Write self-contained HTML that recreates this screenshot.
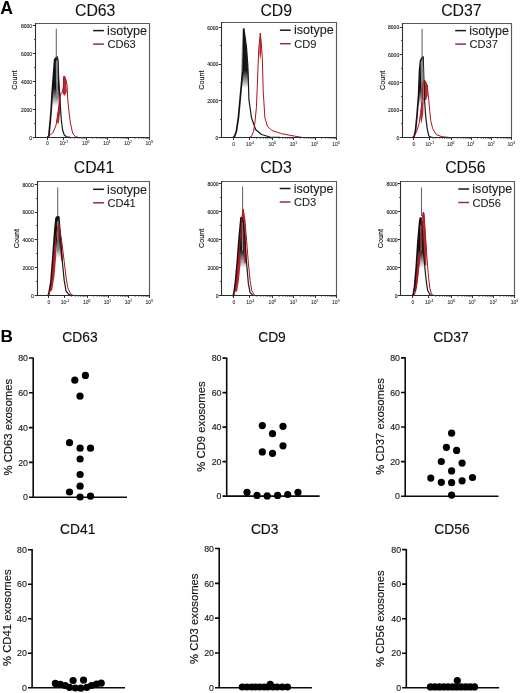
<!DOCTYPE html>
<html><head><meta charset="utf-8"><title>Figure</title>
<style>
html,body{margin:0;padding:0;background:#fff;width:520px;height:693px;overflow:hidden;}
svg{display:block;font-family:"Liberation Sans", sans-serif;will-change:transform;}
</style></head><body>
<svg width="520" height="693" viewBox="0 0 520 693" font-family='"Liberation Sans", sans-serif'>
<rect width="520" height="693" fill="#fff"/>
<text x="0.3" y="13.8" font-size="17.6" font-weight="bold" fill="#000">A</text>
<text x="0.4" y="341.9" font-size="17.2" font-weight="bold" fill="#000">B</text>
<text x="95.2" y="15.6" font-size="15.8" text-anchor="middle" fill="#111" stroke="#111" stroke-width="0.1">CD63</text>
<text x="32" y="139.5" font-size="5" text-anchor="end" fill="#1a1a1a" stroke="#1a1a1a" stroke-width="0.12">0</text>
<text x="32" y="111.55" font-size="5" text-anchor="end" fill="#1a1a1a" stroke="#1a1a1a" stroke-width="0.12">2000</text>
<text x="32" y="83.6" font-size="5" text-anchor="end" fill="#1a1a1a" stroke="#1a1a1a" stroke-width="0.12">4000</text>
<text x="32" y="55.65" font-size="5" text-anchor="end" fill="#1a1a1a" stroke="#1a1a1a" stroke-width="0.12">6000</text>
<text x="32" y="27.71" font-size="5" text-anchor="end" fill="#1a1a1a" stroke="#1a1a1a" stroke-width="0.12">8000</text>
<path d="M32.7 137.5H35.5M34.2 123.5H35.5M32.7 109.5H35.5M34.2 95.5H35.5M32.7 81.5H35.5M34.2 67.5H35.5M32.7 53.5H35.5M34.2 39.5H35.5M32.7 25.5H35.5M47.5 137.5V140M63.5 137.5V140M86.5 137.5V140M107.5 137.5V140M128.5 137.5V140M149.5 137.5V140" stroke="#333" stroke-width="1" fill="none"/>
<path d="M70.22 137.5V138.9M74.24 137.5V138.9M77.1 137.5V138.9M79.32 137.5V138.9M81.13 137.5V138.9M82.66 137.5V138.9M83.99 137.5V138.9M85.16 137.5V138.9M92.58 137.5V138.9M96.31 137.5V138.9M98.95 137.5V138.9M101 137.5V138.9M102.68 137.5V138.9M104.09 137.5V138.9M105.32 137.5V138.9M106.4 137.5V138.9M113.74 137.5V138.9M117.47 137.5V138.9M120.11 137.5V138.9M122.17 137.5V138.9M123.84 137.5V138.9M125.26 137.5V138.9M126.48 137.5V138.9M127.57 137.5V138.9M134.91 137.5V138.9M138.63 137.5V138.9M141.28 137.5V138.9M143.33 137.5V138.9M145 137.5V138.9M146.42 137.5V138.9M147.65 137.5V138.9M148.73 137.5V138.9" stroke="#555" stroke-width="0.8" fill="none"/>
<text x="47.31" y="145.3" font-size="5" text-anchor="middle" fill="#333" stroke="#333" stroke-width="0.1">0</text>
<text x="59.53" y="145.3" font-size="5" fill="#333" stroke="#333" stroke-width="0.1">10<tspan font-size="3.3" dy="-2">-1</tspan></text>
<text x="82.01" y="145.3" font-size="5" fill="#333" stroke="#333" stroke-width="0.1">10<tspan font-size="3.3" dy="-2">0</tspan></text>
<text x="103.17" y="145.3" font-size="5" fill="#333" stroke="#333" stroke-width="0.1">10<tspan font-size="3.3" dy="-2">1</tspan></text>
<text x="124.34" y="145.3" font-size="5" fill="#333" stroke="#333" stroke-width="0.1">10<tspan font-size="3.3" dy="-2">2</tspan></text>
<text x="145.5" y="145.3" font-size="5" fill="#333" stroke="#333" stroke-width="0.1">10<tspan font-size="3.3" dy="-2">3</tspan></text>
<text x="0" y="0" font-size="7.2" text-anchor="middle" fill="#111" stroke="#111" stroke-width="0.15" transform="translate(17.3 80.15) rotate(-90)">Count</text>
<linearGradient id="c1" gradientUnits="userSpaceOnUse" x1="0" y1="88" x2="0" y2="106"><stop offset="0" stop-color="#151515" stop-opacity="1"/><stop offset="1" stop-color="#151515" stop-opacity="0"/></linearGradient>
<polygon points="47.3,137.2 48.8,136.3 50.5,118 51.2,109.7 52.1,93.3 53.4,76 54.7,59.5 56.4,57.5 57.3,56.5 58.1,60.4 58.6,76 59.4,89 59.9,98.5 61.3,120 62.6,130 64.3,135 66.5,136.8 70,137.2" fill="url(#c1)" stroke="none"/>
<polygon points="63.4,80 63.8,76.5 64.6,76.2 66,80 66.8,92 64.5,96 62.5,93" fill="#b3121c" stroke="none" opacity="0.9"/>
<polygon points="56.6,122 58.3,110 59.6,100 60.6,95 60.2,112 58.6,124" fill="#b3121c" stroke="none" opacity="0.9"/>
<polyline points="47.3,137.2 48.8,136.3 50.5,118 51.2,109.7 52.1,93.3 53.4,76 54.7,59.5 56.4,57.5 57.3,56.5" fill="none" stroke="#111" stroke-width="1.7" stroke-linejoin="round"/>
<polyline points="57.3,56.5 58.1,60.4 58.6,76 59.4,89 59.9,98.5 61.3,120 62.6,130 64.3,135 66.5,136.8 70,137.2" fill="none" stroke="#1a1a1a" stroke-width="1.2" stroke-linejoin="round"/>
<polygon points="55.8,62 57.2,58.5 57.8,62 58.2,99 56.6,100 56,80" fill="#8a8a8a" stroke="none"/>
<path d="M56.3 58V28.8" stroke="#6a6a6a" stroke-width="1.1"/>
<polyline points="47.3,137.2 52.7,133 56.1,125 58.3,110 59.6,100 60.9,93 61.6,93.3 62.2,92.5 63.3,88 63.6,76.5 64.6,76.2 66,80 67,85 67.8,100 69.1,113 70.4,123 72.6,133 75.2,136.6 78,137.2" fill="none" stroke="#a8161e" stroke-width="1" stroke-linejoin="round"/>
<path d="M35.5 23.5H149.5V137.5" stroke="#5a5a5a" stroke-width="1.15" fill="none"/>
<path d="M35 137.5H150" stroke="#2a2a2a" stroke-width="1.1"/>
<path d="M35.5 23V137.5" stroke="#2e2e2e" stroke-width="1.1"/>
<path d="M93.1 30.6H103.9" stroke="#1a1a1a" stroke-width="1.5"/>
<path d="M93.1 44.1H103.9" stroke="#9e2a35" stroke-width="1.5"/>
<text x="107.1" y="34.8" font-size="12.6" fill="#1a1a1a" stroke="#1a1a1a" stroke-width="0.08">isotype</text>
<text x="107.4" y="48.1" font-size="11.1" fill="#1a1a1a" stroke="#1a1a1a" stroke-width="0.08">CD63</text>
<text x="276.2" y="15.6" font-size="15.8" text-anchor="middle" fill="#111" stroke="#111" stroke-width="0.1">CD9</text>
<text x="218.3" y="139.7" font-size="5" text-anchor="end" fill="#1a1a1a" stroke="#1a1a1a" stroke-width="0.12">0</text>
<text x="218.3" y="103" font-size="5" text-anchor="end" fill="#1a1a1a" stroke="#1a1a1a" stroke-width="0.12">2000</text>
<text x="218.3" y="66.3" font-size="5" text-anchor="end" fill="#1a1a1a" stroke="#1a1a1a" stroke-width="0.12">4000</text>
<text x="218.3" y="29.61" font-size="5" text-anchor="end" fill="#1a1a1a" stroke="#1a1a1a" stroke-width="0.12">6000</text>
<path d="M218.7 137.5H221.5M220.2 119.5H221.5M218.7 100.5H221.5M220.2 82.5H221.5M218.7 64.5H221.5M220.2 45.5H221.5M218.7 27.5H221.5M233.5 137.5V140M249.5 137.5V140M272.5 137.5V140M293.5 137.5V140M315.5 137.5V140M336.5 137.5V140" stroke="#333" stroke-width="1" fill="none"/>
<path d="M256.67 137.5V138.9M260.71 137.5V138.9M263.59 137.5V138.9M265.81 137.5V138.9M267.63 137.5V138.9M269.17 137.5V138.9M270.5 137.5V138.9M271.68 137.5V138.9M279.13 137.5V138.9M282.87 137.5V138.9M285.53 137.5V138.9M287.59 137.5V138.9M289.27 137.5V138.9M290.69 137.5V138.9M291.93 137.5V138.9M293.01 137.5V138.9M300.39 137.5V138.9M304.13 137.5V138.9M306.78 137.5V138.9M308.84 137.5V138.9M310.53 137.5V138.9M311.95 137.5V138.9M313.18 137.5V138.9M314.27 137.5V138.9M321.64 137.5V138.9M325.39 137.5V138.9M328.04 137.5V138.9M330.1 137.5V138.9M331.78 137.5V138.9M333.21 137.5V138.9M334.44 137.5V138.9M335.53 137.5V138.9" stroke="#555" stroke-width="0.8" fill="none"/>
<text x="233.66" y="145.5" font-size="5" text-anchor="middle" fill="#333" stroke="#333" stroke-width="0.1">0</text>
<text x="245.95" y="145.5" font-size="5" fill="#333" stroke="#333" stroke-width="0.1">10<tspan font-size="3.3" dy="-2">-1</tspan></text>
<text x="268.53" y="145.5" font-size="5" fill="#333" stroke="#333" stroke-width="0.1">10<tspan font-size="3.3" dy="-2">0</tspan></text>
<text x="289.79" y="145.5" font-size="5" fill="#333" stroke="#333" stroke-width="0.1">10<tspan font-size="3.3" dy="-2">1</tspan></text>
<text x="311.04" y="145.5" font-size="5" fill="#333" stroke="#333" stroke-width="0.1">10<tspan font-size="3.3" dy="-2">2</tspan></text>
<text x="332.3" y="145.5" font-size="5" fill="#333" stroke="#333" stroke-width="0.1">10<tspan font-size="3.3" dy="-2">3</tspan></text>
<text x="0" y="0" font-size="7.2" text-anchor="middle" fill="#111" stroke="#111" stroke-width="0.15" transform="translate(203.6 80.05) rotate(-90)">Count</text>
<linearGradient id="c2" gradientUnits="userSpaceOnUse" x1="0" y1="70" x2="0" y2="88"><stop offset="0" stop-color="#151515" stop-opacity="1"/><stop offset="1" stop-color="#151515" stop-opacity="0"/></linearGradient>
<polygon points="233,137.4 234.4,136.8 236.4,131.2 238.4,117.8 240.1,99.4 241.5,84 242.6,70 243.3,45 243.7,28.5 244.8,34.6 246.5,47.3 247.7,63.5 248.2,74.3 248.9,99.4 251.5,117.8 255.6,129.5 261.5,134.5 269.9,137 280,137.4" fill="url(#c2)" stroke="none"/>
<polygon points="259.5,40 260.3,33 261.3,42 261.1,54 260.2,60 259.3,52" fill="#b3121c" stroke="none" opacity="0.9"/>
<polyline points="233,137.4 234.4,136.8 236.4,131.2 238.4,117.8 240.1,99.4 241.5,84 242.6,70 243.3,45 243.7,28.5" fill="none" stroke="#111" stroke-width="1.7" stroke-linejoin="round"/>
<polyline points="243.7,28.5 244.8,34.6 246.5,47.3 247.7,63.5 248.2,74.3 248.9,99.4 251.5,117.8 255.6,129.5 261.5,134.5 269.9,137 280,137.4" fill="none" stroke="#1a1a1a" stroke-width="1.2" stroke-linejoin="round"/>
<polygon points="241.9,45 242.7,44.5 242.3,72 241.4,72" fill="#8a8a8a" stroke="none"/>
<polyline points="249,137.4 251.5,136.6 253.6,131.2 255,121.6 256.4,107.7 257.4,84 258.7,50 260.3,33 261.4,45 262.3,57.5 263.2,91 264.9,117.8 267.4,126.2 271.6,130.4 281.6,133.7 295,136.2 302,137.4" fill="none" stroke="#a8161e" stroke-width="1" stroke-linejoin="round"/>
<path d="M221.5 22.5H336.5V137.5" stroke="#5a5a5a" stroke-width="1.15" fill="none"/>
<path d="M221 137.5H337" stroke="#2a2a2a" stroke-width="1.1"/>
<path d="M221.5 22V137.5" stroke="#2e2e2e" stroke-width="1.1"/>
<path d="M279.9 30.2H290.7" stroke="#1a1a1a" stroke-width="1.5"/>
<path d="M279.9 43.7H290.7" stroke="#9e2a35" stroke-width="1.5"/>
<text x="293.9" y="34.4" font-size="12.6" fill="#1a1a1a" stroke="#1a1a1a" stroke-width="0.08">isotype</text>
<text x="294.2" y="47.7" font-size="11.1" fill="#1a1a1a" stroke="#1a1a1a" stroke-width="0.08">CD9</text>
<text x="461.4" y="15.6" font-size="15.8" text-anchor="middle" fill="#111" stroke="#111" stroke-width="0.1">CD37</text>
<text x="399.2" y="140.1" font-size="5" text-anchor="end" fill="#1a1a1a" stroke="#1a1a1a" stroke-width="0.12">0</text>
<text x="399.2" y="112.42" font-size="5" text-anchor="end" fill="#1a1a1a" stroke="#1a1a1a" stroke-width="0.12">2000</text>
<text x="399.2" y="84.75" font-size="5" text-anchor="end" fill="#1a1a1a" stroke="#1a1a1a" stroke-width="0.12">4000</text>
<text x="399.2" y="57.07" font-size="5" text-anchor="end" fill="#1a1a1a" stroke="#1a1a1a" stroke-width="0.12">6000</text>
<text x="399.2" y="29.4" font-size="5" text-anchor="end" fill="#1a1a1a" stroke="#1a1a1a" stroke-width="0.12">8000</text>
<path d="M399.7 137.5H402.5M401.2 123.5H402.5M399.7 110.5H402.5M401.2 96.5H402.5M399.7 82.5H402.5M401.2 68.5H402.5M399.7 54.5H402.5M401.2 40.5H402.5M399.7 27.5H402.5M413.5 137.5V140M429.5 137.5V140M451.5 137.5V140M471.5 137.5V140M491.5 137.5V140M511.5 137.5V140" stroke="#333" stroke-width="1" fill="none"/>
<path d="M435.86 137.5V138.9M439.71 137.5V138.9M442.44 137.5V138.9M444.56 137.5V138.9M446.29 137.5V138.9M447.75 137.5V138.9M449.02 137.5V138.9M450.14 137.5V138.9M457.23 137.5V138.9M460.79 137.5V138.9M463.31 137.5V138.9M465.27 137.5V138.9M466.87 137.5V138.9M468.23 137.5V138.9M469.4 137.5V138.9M470.43 137.5V138.9M477.45 137.5V138.9M481.01 137.5V138.9M483.53 137.5V138.9M485.49 137.5V138.9M487.09 137.5V138.9M488.45 137.5V138.9M489.62 137.5V138.9M490.65 137.5V138.9M497.67 137.5V138.9M501.23 137.5V138.9M503.75 137.5V138.9M505.71 137.5V138.9M507.31 137.5V138.9M508.67 137.5V138.9M509.84 137.5V138.9M510.87 137.5V138.9" stroke="#555" stroke-width="0.8" fill="none"/>
<text x="413.98" y="145.9" font-size="5" text-anchor="middle" fill="#333" stroke="#333" stroke-width="0.1">0</text>
<text x="425.48" y="145.9" font-size="5" fill="#333" stroke="#333" stroke-width="0.1">10<tspan font-size="3.3" dy="-2">-1</tspan></text>
<text x="446.94" y="145.9" font-size="5" fill="#333" stroke="#333" stroke-width="0.1">10<tspan font-size="3.3" dy="-2">0</tspan></text>
<text x="467.16" y="145.9" font-size="5" fill="#333" stroke="#333" stroke-width="0.1">10<tspan font-size="3.3" dy="-2">1</tspan></text>
<text x="487.38" y="145.9" font-size="5" fill="#333" stroke="#333" stroke-width="0.1">10<tspan font-size="3.3" dy="-2">2</tspan></text>
<text x="507.6" y="145.9" font-size="5" fill="#333" stroke="#333" stroke-width="0.1">10<tspan font-size="3.3" dy="-2">3</tspan></text>
<text x="0" y="0" font-size="7.2" text-anchor="middle" fill="#111" stroke="#111" stroke-width="0.15" transform="translate(384.5 80.45) rotate(-90)">Count</text>
<linearGradient id="c3" gradientUnits="userSpaceOnUse" x1="0" y1="88" x2="0" y2="106"><stop offset="0" stop-color="#151515" stop-opacity="1"/><stop offset="1" stop-color="#151515" stop-opacity="0"/></linearGradient>
<polygon points="412.5,137.8 414,136.7 415.5,130.6 417,115.5 418.6,95.3 419.6,70 420.5,61 421.5,59 422.1,58 423.2,56.5 423.6,70 424.6,100.3 425.6,115.5 427.2,128.6 428.7,135.7 430.7,137.2 434,137.8" fill="url(#c3)" stroke="none"/>
<polygon points="423.1,82 424.6,80.1 427.2,85 427.8,95 426,100 423.5,100 422.6,92" fill="#b3121c" stroke="none" opacity="0.9"/>
<polygon points="420.2,118 421.5,104 423.5,100 423.4,112 421.5,124" fill="#b3121c" stroke="none" opacity="0.9"/>
<polyline points="412.5,137.8 414,136.7 415.5,130.6 417,115.5 418.6,95.3 419.6,70 420.5,61 421.5,59 422.1,58 423.2,56.5" fill="none" stroke="#111" stroke-width="1.7" stroke-linejoin="round"/>
<polyline points="423.2,56.5 423.6,70 424.6,100.3 425.6,115.5 427.2,128.6 428.7,135.7 430.7,137.2 434,137.8" fill="none" stroke="#1a1a1a" stroke-width="1.2" stroke-linejoin="round"/>
<polygon points="420.6,62 422.8,58 423.6,75 424.1,97 422.6,99 421.3,88" fill="#8a8a8a" stroke="none"/>
<path d="M422.1 58V28.8" stroke="#6a6a6a" stroke-width="1.1"/>
<polyline points="413,137.8 414.5,135.7 417,130.6 419.1,123.5 420.6,112.4 422.1,100.3 423.1,82 424.6,80.1 427.2,85 428.7,99.3 429.7,110.4 430.7,120.5 432.7,128.6 436.2,134.6 442,136.7 450,137.5 455,137.8" fill="none" stroke="#a8161e" stroke-width="1" stroke-linejoin="round"/>
<path d="M402.5 23.5H511.5V137.5" stroke="#5a5a5a" stroke-width="1.15" fill="none"/>
<path d="M402 137.5H512" stroke="#2a2a2a" stroke-width="1.1"/>
<path d="M402.5 23V137.5" stroke="#2e2e2e" stroke-width="1.1"/>
<path d="M455.2 30.6H466" stroke="#1a1a1a" stroke-width="1.5"/>
<path d="M455.2 44.1H466" stroke="#9e2a35" stroke-width="1.5"/>
<text x="469.2" y="34.8" font-size="12.6" fill="#1a1a1a" stroke="#1a1a1a" stroke-width="0.08">isotype</text>
<text x="469.5" y="48.1" font-size="11.1" fill="#1a1a1a" stroke="#1a1a1a" stroke-width="0.08">CD37</text>
<text x="94" y="172.7" font-size="15.8" text-anchor="middle" fill="#111" stroke="#111" stroke-width="0.1">CD41</text>
<text x="33.7" y="297.7" font-size="5" text-anchor="end" fill="#1a1a1a" stroke="#1a1a1a" stroke-width="0.12">0</text>
<text x="33.7" y="269.9" font-size="5" text-anchor="end" fill="#1a1a1a" stroke="#1a1a1a" stroke-width="0.12">2000</text>
<text x="33.7" y="242.1" font-size="5" text-anchor="end" fill="#1a1a1a" stroke="#1a1a1a" stroke-width="0.12">4000</text>
<text x="33.7" y="214.3" font-size="5" text-anchor="end" fill="#1a1a1a" stroke="#1a1a1a" stroke-width="0.12">6000</text>
<text x="33.7" y="186.5" font-size="5" text-anchor="end" fill="#1a1a1a" stroke="#1a1a1a" stroke-width="0.12">8000</text>
<path d="M34.7 295.5H37.5M36.2 281.5H37.5M34.7 267.5H37.5M36.2 253.5H37.5M34.7 239.5H37.5M36.2 225.5H37.5M34.7 212.5H37.5M36.2 198.5H37.5M34.7 184.5H37.5M48.5 295.5V298M64.5 295.5V298M87.5 295.5V298M108.5 295.5V298M128.5 295.5V298M149.5 295.5V298" stroke="#333" stroke-width="1" fill="none"/>
<path d="M71.4 295.5V296.9M75.37 295.5V296.9M78.18 295.5V296.9M80.37 295.5V296.9M82.15 295.5V296.9M83.66 295.5V296.9M84.97 295.5V296.9M86.12 295.5V296.9M93.43 295.5V296.9M97.1 295.5V296.9M99.7 295.5V296.9M101.72 295.5V296.9M103.38 295.5V296.9M104.77 295.5V296.9M105.98 295.5V296.9M107.05 295.5V296.9M114.28 295.5V296.9M117.95 295.5V296.9M120.55 295.5V296.9M122.57 295.5V296.9M124.23 295.5V296.9M125.62 295.5V296.9M126.83 295.5V296.9M127.9 295.5V296.9M135.13 295.5V296.9M138.8 295.5V296.9M141.4 295.5V296.9M143.42 295.5V296.9M145.07 295.5V296.9M146.47 295.5V296.9M147.68 295.5V296.9M148.75 295.5V296.9" stroke="#555" stroke-width="0.8" fill="none"/>
<text x="48.83" y="303.5" font-size="5" text-anchor="middle" fill="#333" stroke="#333" stroke-width="0.1">0</text>
<text x="60.81" y="303.5" font-size="5" fill="#333" stroke="#333" stroke-width="0.1">10<tspan font-size="3.3" dy="-2">-1</tspan></text>
<text x="82.95" y="303.5" font-size="5" fill="#333" stroke="#333" stroke-width="0.1">10<tspan font-size="3.3" dy="-2">0</tspan></text>
<text x="103.8" y="303.5" font-size="5" fill="#333" stroke="#333" stroke-width="0.1">10<tspan font-size="3.3" dy="-2">1</tspan></text>
<text x="124.65" y="303.5" font-size="5" fill="#333" stroke="#333" stroke-width="0.1">10<tspan font-size="3.3" dy="-2">2</tspan></text>
<text x="145.5" y="303.5" font-size="5" fill="#333" stroke="#333" stroke-width="0.1">10<tspan font-size="3.3" dy="-2">3</tspan></text>
<text x="0" y="0" font-size="7.2" text-anchor="middle" fill="#111" stroke="#111" stroke-width="0.15" transform="translate(19 238.6) rotate(-90)">Count</text>
<linearGradient id="c4" gradientUnits="userSpaceOnUse" x1="0" y1="240" x2="0" y2="258"><stop offset="0" stop-color="#151515" stop-opacity="1"/><stop offset="1" stop-color="#151515" stop-opacity="0"/></linearGradient>
<polygon points="47.5,295.4 48.7,294.8 51,281.4 53,255.5 54.9,229.5 56.1,218.1 57,217 59,216.5 60.8,240.6 62.5,263.1 64.2,280.4 66,290.8 68.6,294.3 71,295.4" fill="url(#c4)" stroke="none"/>
<polygon points="49.5,290 51.5,278 53.5,258 55.5,245 56.2,256 54.5,276 52,291" fill="#b3121c" stroke="none" opacity="0.9"/>
<polygon points="58.5,225 59,224.2 61.6,240.6 62.6,258 61.2,262 59.8,245" fill="#b3121c" stroke="none" opacity="0.9"/>
<polyline points="47.5,295.4 48.7,294.8 51,281.4 53,255.5 54.9,229.5 56.1,218.1 57,217 59,216.5" fill="none" stroke="#111" stroke-width="1.7" stroke-linejoin="round"/>
<polyline points="59,216.5 60.8,240.6 62.5,263.1 64.2,280.4 66,290.8 68.6,294.3 71,295.4" fill="none" stroke="#1a1a1a" stroke-width="1.2" stroke-linejoin="round"/>
<polygon points="57,222 58.4,220 58.8,250 57.4,252" fill="#8a8a8a" stroke="none"/>
<path d="M57.7 216V187.4" stroke="#6a6a6a" stroke-width="1.1"/>
<polyline points="48.3,295.4 49.8,292 51.6,284 53.6,262 55.5,240 57.5,228 59,224.2 61.6,240.6 64.2,261.4 66,277 67.7,287.4 70.3,293.4 73,295.4" fill="none" stroke="#a8161e" stroke-width="1" stroke-linejoin="round"/>
<path d="M37.5 181.5H149.5V295.5" stroke="#5a5a5a" stroke-width="1.15" fill="none"/>
<path d="M37 295.5H150" stroke="#2a2a2a" stroke-width="1.1"/>
<path d="M37.5 181V295.5" stroke="#2e2e2e" stroke-width="1.1"/>
<path d="M93.1 189.3H103.9" stroke="#1a1a1a" stroke-width="1.5"/>
<path d="M93.1 202.8H103.9" stroke="#9e2a35" stroke-width="1.5"/>
<text x="107.1" y="193.5" font-size="12.6" fill="#1a1a1a" stroke="#1a1a1a" stroke-width="0.08">isotype</text>
<text x="107.4" y="206.8" font-size="11.1" fill="#1a1a1a" stroke="#1a1a1a" stroke-width="0.08">CD41</text>
<text x="276" y="172.7" font-size="15.8" text-anchor="middle" fill="#111" stroke="#111" stroke-width="0.1">CD3</text>
<text x="218.6" y="298.1" font-size="5" text-anchor="end" fill="#1a1a1a" stroke="#1a1a1a" stroke-width="0.12">0</text>
<text x="218.6" y="270.02" font-size="5" text-anchor="end" fill="#1a1a1a" stroke="#1a1a1a" stroke-width="0.12">2000</text>
<text x="218.6" y="241.95" font-size="5" text-anchor="end" fill="#1a1a1a" stroke="#1a1a1a" stroke-width="0.12">4000</text>
<text x="218.6" y="213.87" font-size="5" text-anchor="end" fill="#1a1a1a" stroke="#1a1a1a" stroke-width="0.12">6000</text>
<text x="218.6" y="185.8" font-size="5" text-anchor="end" fill="#1a1a1a" stroke="#1a1a1a" stroke-width="0.12">8000</text>
<path d="M218.7 295.5H221.5M220.2 281.5H221.5M218.7 267.5H221.5M220.2 253.5H221.5M218.7 239.5H221.5M220.2 225.5H221.5M218.7 211.5H221.5M220.2 197.5H221.5M218.7 183.5H221.5M233.5 295.5V298M249.5 295.5V298M272.5 295.5V298M293.5 295.5V298M315.5 295.5V298M336.5 295.5V298" stroke="#333" stroke-width="1" fill="none"/>
<path d="M256.82 295.5V296.9M260.84 295.5V296.9M263.7 295.5V296.9M265.92 295.5V296.9M267.73 295.5V296.9M269.26 295.5V296.9M270.59 295.5V296.9M271.76 295.5V296.9M279.18 295.5V296.9M282.91 295.5V296.9M285.55 295.5V296.9M287.6 295.5V296.9M289.28 295.5V296.9M290.69 295.5V296.9M291.92 295.5V296.9M293 295.5V296.9M300.34 295.5V296.9M304.07 295.5V296.9M306.71 295.5V296.9M308.77 295.5V296.9M310.44 295.5V296.9M311.86 295.5V296.9M313.08 295.5V296.9M314.17 295.5V296.9M321.51 295.5V296.9M325.23 295.5V296.9M327.88 295.5V296.9M329.93 295.5V296.9M331.6 295.5V296.9M333.02 295.5V296.9M334.25 295.5V296.9M335.33 295.5V296.9" stroke="#555" stroke-width="0.8" fill="none"/>
<text x="233.91" y="303.9" font-size="5" text-anchor="middle" fill="#333" stroke="#333" stroke-width="0.1">0</text>
<text x="246.13" y="303.9" font-size="5" fill="#333" stroke="#333" stroke-width="0.1">10<tspan font-size="3.3" dy="-2">-1</tspan></text>
<text x="268.61" y="303.9" font-size="5" fill="#333" stroke="#333" stroke-width="0.1">10<tspan font-size="3.3" dy="-2">0</tspan></text>
<text x="289.77" y="303.9" font-size="5" fill="#333" stroke="#333" stroke-width="0.1">10<tspan font-size="3.3" dy="-2">1</tspan></text>
<text x="310.94" y="303.9" font-size="5" fill="#333" stroke="#333" stroke-width="0.1">10<tspan font-size="3.3" dy="-2">2</tspan></text>
<text x="332.1" y="303.9" font-size="5" fill="#333" stroke="#333" stroke-width="0.1">10<tspan font-size="3.3" dy="-2">3</tspan></text>
<text x="0" y="0" font-size="7.2" text-anchor="middle" fill="#111" stroke="#111" stroke-width="0.15" transform="translate(203.9 238.4) rotate(-90)">Count</text>
<linearGradient id="c5" gradientUnits="userSpaceOnUse" x1="0" y1="250" x2="0" y2="268"><stop offset="0" stop-color="#151515" stop-opacity="1"/><stop offset="1" stop-color="#151515" stop-opacity="0"/></linearGradient>
<polygon points="232,295.8 233.7,295 235.4,282.7 237.3,262 239.3,236 241.1,217.2 242.2,217.5 243.2,221.6 244.9,240.6 246.6,263.1 248.4,283.9 250.1,292.6 252.7,295.2 254,295.8" fill="url(#c5)" stroke="none"/>
<polygon points="234,290 236,276 238,260 240.2,250 240.5,264 239,280 237,292" fill="#b3121c" stroke="none" opacity="0.9"/>
<polygon points="242.4,214 243.2,209.1 244.9,219.8 246.2,240 246.4,262 244.6,264 243.2,240" fill="#b3121c" stroke="none" opacity="0.9"/>
<polyline points="232,295.8 233.7,295 235.4,282.7 237.3,262 239.3,236 241.1,217.2" fill="none" stroke="#111" stroke-width="1.7" stroke-linejoin="round"/>
<polyline points="241.1,217.2 242.2,217.5 243.2,221.6 244.9,240.6 246.6,263.1 248.4,283.9 250.1,292.6 252.7,295.2 254,295.8" fill="none" stroke="#1a1a1a" stroke-width="1.2" stroke-linejoin="round"/>
<polygon points="241.6,224 242.6,222 243.2,250 242,252" fill="#8a8a8a" stroke="none"/>
<path d="M242.6 216V186.5" stroke="#6a6a6a" stroke-width="1.1"/>
<polyline points="233.5,295.8 235.2,291 237,277 238.8,255 240.8,232 242.3,214 243.2,209.1 244.9,219.8 246.6,240.6 248.4,263.1 250.1,280.4 251.8,290.8 254.4,295.2 256,295.8" fill="none" stroke="#a8161e" stroke-width="1" stroke-linejoin="round"/>
<path d="M221.5 181.5H336.5V295.5" stroke="#5a5a5a" stroke-width="1.15" fill="none"/>
<path d="M221 295.5H337" stroke="#2a2a2a" stroke-width="1.1"/>
<path d="M221.5 181V295.5" stroke="#2e2e2e" stroke-width="1.1"/>
<path d="M279.7 188.5H290.5" stroke="#1a1a1a" stroke-width="1.5"/>
<path d="M279.7 202H290.5" stroke="#9e2a35" stroke-width="1.5"/>
<text x="293.7" y="192.7" font-size="12.6" fill="#1a1a1a" stroke="#1a1a1a" stroke-width="0.08">isotype</text>
<text x="294" y="206" font-size="11.1" fill="#1a1a1a" stroke="#1a1a1a" stroke-width="0.08">CD3</text>
<text x="465.4" y="172.7" font-size="15.8" text-anchor="middle" fill="#111" stroke="#111" stroke-width="0.1">CD56</text>
<text x="397.6" y="297.9" font-size="5" text-anchor="end" fill="#1a1a1a" stroke="#1a1a1a" stroke-width="0.12">0</text>
<text x="397.6" y="269.95" font-size="5" text-anchor="end" fill="#1a1a1a" stroke="#1a1a1a" stroke-width="0.12">2000</text>
<text x="397.6" y="242" font-size="5" text-anchor="end" fill="#1a1a1a" stroke="#1a1a1a" stroke-width="0.12">4000</text>
<text x="397.6" y="214.05" font-size="5" text-anchor="end" fill="#1a1a1a" stroke="#1a1a1a" stroke-width="0.12">6000</text>
<text x="397.6" y="186.11" font-size="5" text-anchor="end" fill="#1a1a1a" stroke="#1a1a1a" stroke-width="0.12">8000</text>
<path d="M397.7 295.5H400.5M399.2 281.5H400.5M397.7 267.5H400.5M399.2 253.5H400.5M397.7 239.5H400.5M399.2 225.5H400.5M397.7 211.5H400.5M399.2 197.5H400.5M397.7 183.5H400.5M412.5 295.5V298M428.5 295.5V298M451.5 295.5V298M472.5 295.5V298M493.5 295.5V298M514.5 295.5V298" stroke="#333" stroke-width="1" fill="none"/>
<path d="M435.69 295.5V296.9M439.71 295.5V296.9M442.56 295.5V296.9M444.77 295.5V296.9M446.57 295.5V296.9M448.1 295.5V296.9M449.42 295.5V296.9M450.59 295.5V296.9M457.98 295.5V296.9M461.69 295.5V296.9M464.33 295.5V296.9M466.37 295.5V296.9M468.04 295.5V296.9M469.45 295.5V296.9M470.68 295.5V296.9M471.75 295.5V296.9M479.07 295.5V296.9M482.78 295.5V296.9M485.42 295.5V296.9M487.46 295.5V296.9M489.13 295.5V296.9M490.54 295.5V296.9M491.77 295.5V296.9M492.84 295.5V296.9M500.16 295.5V296.9M503.87 295.5V296.9M506.51 295.5V296.9M508.55 295.5V296.9M510.22 295.5V296.9M511.63 295.5V296.9M512.86 295.5V296.9M513.93 295.5V296.9" stroke="#555" stroke-width="0.8" fill="none"/>
<text x="412.87" y="303.7" font-size="5" text-anchor="middle" fill="#333" stroke="#333" stroke-width="0.1">0</text>
<text x="425.03" y="303.7" font-size="5" fill="#333" stroke="#333" stroke-width="0.1">10<tspan font-size="3.3" dy="-2">-1</tspan></text>
<text x="447.43" y="303.7" font-size="5" fill="#333" stroke="#333" stroke-width="0.1">10<tspan font-size="3.3" dy="-2">0</tspan></text>
<text x="468.52" y="303.7" font-size="5" fill="#333" stroke="#333" stroke-width="0.1">10<tspan font-size="3.3" dy="-2">1</tspan></text>
<text x="489.61" y="303.7" font-size="5" fill="#333" stroke="#333" stroke-width="0.1">10<tspan font-size="3.3" dy="-2">2</tspan></text>
<text x="510.7" y="303.7" font-size="5" fill="#333" stroke="#333" stroke-width="0.1">10<tspan font-size="3.3" dy="-2">3</tspan></text>
<text x="0" y="0" font-size="7.2" text-anchor="middle" fill="#111" stroke="#111" stroke-width="0.15" transform="translate(382.9 238.55) rotate(-90)">Count</text>
<linearGradient id="c6" gradientUnits="userSpaceOnUse" x1="0" y1="250" x2="0" y2="268"><stop offset="0" stop-color="#151515" stop-opacity="1"/><stop offset="1" stop-color="#151515" stop-opacity="0"/></linearGradient>
<polygon points="412.5,295.6 413.3,294.3 414.5,287.4 416.3,266.6 418,240.6 419.7,221.6 420.5,217.5 421,218 421.9,223 423.8,255.5 425.8,277.5 427.5,290 430,294.8 432,295.6" fill="url(#c6)" stroke="none"/>
<polygon points="413.5,290 415.5,276 417.5,260 419.3,250 419.6,264 418,280 416,292" fill="#b3121c" stroke="none" opacity="0.9"/>
<polygon points="422,222 423.2,212 424,213 425.1,229.5 426.5,250 426.3,266 424.3,264 422.6,240" fill="#b3121c" stroke="none" opacity="0.9"/>
<polyline points="412.5,295.6 413.3,294.3 414.5,287.4 416.3,266.6 418,240.6 419.7,221.6 420.5,217.5" fill="none" stroke="#111" stroke-width="1.7" stroke-linejoin="round"/>
<polyline points="420.5,217.5 421,218 421.9,223 423.8,255.5 425.8,277.5 427.5,290 430,294.8 432,295.6" fill="none" stroke="#1a1a1a" stroke-width="1.2" stroke-linejoin="round"/>
<polygon points="420.3,226 421.3,224 421.8,250 420.8,252" fill="#8a8a8a" stroke="none"/>
<path d="M421.5 216V187.4" stroke="#6a6a6a" stroke-width="1.1"/>
<polyline points="413.8,295.6 415,293 416.5,286 418.8,266 420.8,246.4 421.9,220.4 423.2,212 424,213 425.1,229.5 426.8,255.5 428.3,275 429.8,288 431.5,294.2 434,295.6" fill="none" stroke="#a8161e" stroke-width="1" stroke-linejoin="round"/>
<path d="M400.5 181.5H514.5V295.5" stroke="#5a5a5a" stroke-width="1.15" fill="none"/>
<path d="M400 295.5H515" stroke="#2a2a2a" stroke-width="1.1"/>
<path d="M400.5 181V295.5" stroke="#2e2e2e" stroke-width="1.1"/>
<path d="M458.3 189H469.1" stroke="#1a1a1a" stroke-width="1.5"/>
<path d="M458.3 202.5H469.1" stroke="#9e2a35" stroke-width="1.5"/>
<text x="472.3" y="193.2" font-size="12.6" fill="#1a1a1a" stroke="#1a1a1a" stroke-width="0.08">isotype</text>
<text x="472.6" y="206.5" font-size="11.1" fill="#1a1a1a" stroke="#1a1a1a" stroke-width="0.08">CD56</text>
<text x="80" y="341.9" font-size="13.8" text-anchor="middle" fill="#111" stroke="#111" stroke-width="0.15">CD63</text>
<text x="28" y="500.4" font-size="8.8" text-anchor="end" fill="#222" stroke="#222" stroke-width="0.15">0</text>
<text x="28" y="465.6" font-size="8.8" text-anchor="end" fill="#222" stroke="#222" stroke-width="0.15">20</text>
<text x="28" y="430.8" font-size="8.8" text-anchor="end" fill="#222" stroke="#222" stroke-width="0.15">40</text>
<text x="28" y="396" font-size="8.8" text-anchor="end" fill="#222" stroke="#222" stroke-width="0.15">60</text>
<text x="28" y="361.2" font-size="8.8" text-anchor="end" fill="#222" stroke="#222" stroke-width="0.15">80</text>
<path d="M29 497.2H33.2M29 462.4H33.2M29 427.6H33.2M29 392.8H33.2M29 358H33.2M33.2 357.4V497.2M32.4 497.2H127" stroke="#0a0a0a" stroke-width="1.6" fill="none"/>
<text x="0" y="0" font-size="11.3" text-anchor="middle" fill="#111" stroke="#111" stroke-width="0.15" transform="translate(11.8 427.2) rotate(-90)">% CD63 exosomes</text>
<circle cx="85.4" cy="375.4" r="3.6" fill="#000"/>
<circle cx="74.8" cy="380.2" r="3.6" fill="#000"/>
<circle cx="80" cy="396.2" r="3.6" fill="#000"/>
<circle cx="69.5" cy="442.7" r="3.6" fill="#000"/>
<circle cx="80.1" cy="448.2" r="3.6" fill="#000"/>
<circle cx="90.5" cy="448.2" r="3.6" fill="#000"/>
<circle cx="80.1" cy="459" r="3.6" fill="#000"/>
<circle cx="80.1" cy="474.5" r="3.6" fill="#000"/>
<circle cx="80.1" cy="486.2" r="3.6" fill="#000"/>
<circle cx="69.5" cy="492" r="3.6" fill="#000"/>
<circle cx="80.1" cy="497" r="3.6" fill="#000"/>
<circle cx="90.5" cy="496.2" r="3.6" fill="#000"/>
<text x="272" y="341.9" font-size="13.8" text-anchor="middle" fill="#111" stroke="#111" stroke-width="0.15">CD9</text>
<text x="221.5" y="499.3" font-size="8.8" text-anchor="end" fill="#222" stroke="#222" stroke-width="0.15">0</text>
<text x="221.5" y="464.8" font-size="8.8" text-anchor="end" fill="#222" stroke="#222" stroke-width="0.15">20</text>
<text x="221.5" y="430.3" font-size="8.8" text-anchor="end" fill="#222" stroke="#222" stroke-width="0.15">40</text>
<text x="221.5" y="395.8" font-size="8.8" text-anchor="end" fill="#222" stroke="#222" stroke-width="0.15">60</text>
<text x="221.5" y="361.3" font-size="8.8" text-anchor="end" fill="#222" stroke="#222" stroke-width="0.15">80</text>
<path d="M222.5 496.1H226.7M222.5 461.6H226.7M222.5 427.1H226.7M222.5 392.6H226.7M222.5 358.1H226.7M226.7 357.5V496.1M225.9 496.1H319.6" stroke="#0a0a0a" stroke-width="1.6" fill="none"/>
<text x="0" y="0" font-size="11.3" text-anchor="middle" fill="#111" stroke="#111" stroke-width="0.15" transform="translate(204.7 426.5) rotate(-90)">% CD9 exosomes</text>
<circle cx="262.3" cy="425.6" r="3.6" fill="#000"/>
<circle cx="283" cy="426.3" r="3.6" fill="#000"/>
<circle cx="272.5" cy="433.7" r="3.6" fill="#000"/>
<circle cx="283" cy="445.8" r="3.6" fill="#000"/>
<circle cx="262.3" cy="451.9" r="3.6" fill="#000"/>
<circle cx="272.5" cy="453.3" r="3.6" fill="#000"/>
<circle cx="247" cy="492.3" r="3.6" fill="#000"/>
<circle cx="257" cy="495.4" r="3.6" fill="#000"/>
<circle cx="267.2" cy="495.9" r="3.6" fill="#000"/>
<circle cx="277.6" cy="495.4" r="3.6" fill="#000"/>
<circle cx="287.7" cy="494.5" r="3.6" fill="#000"/>
<circle cx="298" cy="492.3" r="3.6" fill="#000"/>
<text x="451" y="341.9" font-size="13.8" text-anchor="middle" fill="#111" stroke="#111" stroke-width="0.15">CD37</text>
<text x="400" y="499.4" font-size="8.8" text-anchor="end" fill="#222" stroke="#222" stroke-width="0.15">0</text>
<text x="400" y="464.82" font-size="8.8" text-anchor="end" fill="#222" stroke="#222" stroke-width="0.15">20</text>
<text x="400" y="430.25" font-size="8.8" text-anchor="end" fill="#222" stroke="#222" stroke-width="0.15">40</text>
<text x="400" y="395.67" font-size="8.8" text-anchor="end" fill="#222" stroke="#222" stroke-width="0.15">60</text>
<text x="400" y="361.1" font-size="8.8" text-anchor="end" fill="#222" stroke="#222" stroke-width="0.15">80</text>
<path d="M401 496.2H405.2M401 461.62H405.2M401 427.05H405.2M401 392.47H405.2M401 357.9H405.2M405.2 357.3V496.2M404.4 496.2H498.5" stroke="#0a0a0a" stroke-width="1.6" fill="none"/>
<text x="0" y="0" font-size="11.3" text-anchor="middle" fill="#111" stroke="#111" stroke-width="0.15" transform="translate(383.9 426.4) rotate(-90)">% CD37 exosomes</text>
<circle cx="451.6" cy="433.2" r="3.6" fill="#000"/>
<circle cx="446.4" cy="447.3" r="3.6" fill="#000"/>
<circle cx="456.6" cy="450.4" r="3.6" fill="#000"/>
<circle cx="441.3" cy="461.5" r="3.6" fill="#000"/>
<circle cx="462.1" cy="463.1" r="3.6" fill="#000"/>
<circle cx="451.6" cy="470.9" r="3.6" fill="#000"/>
<circle cx="430.8" cy="478.1" r="3.6" fill="#000"/>
<circle cx="472.5" cy="477.5" r="3.6" fill="#000"/>
<circle cx="441.3" cy="482.3" r="3.6" fill="#000"/>
<circle cx="451.6" cy="482.7" r="3.6" fill="#000"/>
<circle cx="462.1" cy="480.8" r="3.6" fill="#000"/>
<circle cx="451.6" cy="495.1" r="3.6" fill="#000"/>
<text x="77.7" y="533.7" font-size="13.8" text-anchor="middle" fill="#111" stroke="#111" stroke-width="0.15">CD41</text>
<text x="26.9" y="690.9" font-size="8.8" text-anchor="end" fill="#222" stroke="#222" stroke-width="0.15">0</text>
<text x="26.9" y="656.4" font-size="8.8" text-anchor="end" fill="#222" stroke="#222" stroke-width="0.15">20</text>
<text x="26.9" y="621.9" font-size="8.8" text-anchor="end" fill="#222" stroke="#222" stroke-width="0.15">40</text>
<text x="26.9" y="587.4" font-size="8.8" text-anchor="end" fill="#222" stroke="#222" stroke-width="0.15">60</text>
<text x="26.9" y="552.9" font-size="8.8" text-anchor="end" fill="#222" stroke="#222" stroke-width="0.15">80</text>
<path d="M27.9 687.7H32.1M27.9 653.2H32.1M27.9 618.7H32.1M27.9 584.2H32.1M27.9 549.7H32.1M32.1 549.1V687.7M31.3 687.7H125" stroke="#0a0a0a" stroke-width="1.6" fill="none"/>
<text x="0" y="0" font-size="11.3" text-anchor="middle" fill="#111" stroke="#111" stroke-width="0.15" transform="translate(11.05 617.7) rotate(-90)">% CD41 exosomes</text>
<circle cx="55.4" cy="683.4" r="3.6" fill="#000"/>
<circle cx="60.3" cy="684.3" r="3.6" fill="#000"/>
<circle cx="65.2" cy="685.5" r="3.6" fill="#000"/>
<circle cx="69.5" cy="687.3" r="3.6" fill="#000"/>
<circle cx="73.1" cy="680.5" r="3.6" fill="#000"/>
<circle cx="75.4" cy="688" r="3.6" fill="#000"/>
<circle cx="80.8" cy="688.2" r="3.6" fill="#000"/>
<circle cx="83.5" cy="680.1" r="3.6" fill="#000"/>
<circle cx="86.9" cy="687.3" r="3.6" fill="#000"/>
<circle cx="91.5" cy="685.5" r="3.6" fill="#000"/>
<circle cx="96.5" cy="684" r="3.6" fill="#000"/>
<circle cx="101.2" cy="683.2" r="3.6" fill="#000"/>
<text x="264.7" y="533.7" font-size="13.8" text-anchor="middle" fill="#111" stroke="#111" stroke-width="0.15">CD3</text>
<text x="214" y="691" font-size="8.8" text-anchor="end" fill="#222" stroke="#222" stroke-width="0.15">0</text>
<text x="214" y="656.17" font-size="8.8" text-anchor="end" fill="#222" stroke="#222" stroke-width="0.15">20</text>
<text x="214" y="621.35" font-size="8.8" text-anchor="end" fill="#222" stroke="#222" stroke-width="0.15">40</text>
<text x="214" y="586.53" font-size="8.8" text-anchor="end" fill="#222" stroke="#222" stroke-width="0.15">60</text>
<text x="214" y="551.7" font-size="8.8" text-anchor="end" fill="#222" stroke="#222" stroke-width="0.15">80</text>
<path d="M215 687.8H219.2M215 652.97H219.2M215 618.15H219.2M215 583.33H219.2M215 548.5H219.2M219.2 547.9V687.8M218.4 687.8H311.9" stroke="#0a0a0a" stroke-width="1.6" fill="none"/>
<text x="0" y="0" font-size="11.3" text-anchor="middle" fill="#111" stroke="#111" stroke-width="0.15" transform="translate(197.5 618.7) rotate(-90)">% CD3 exosomes</text>
<circle cx="242.3" cy="687" r="3.6" fill="#000"/>
<circle cx="247" cy="687" r="3.6" fill="#000"/>
<circle cx="251.8" cy="687" r="3.6" fill="#000"/>
<circle cx="255.5" cy="687" r="3.6" fill="#000"/>
<circle cx="259.7" cy="687" r="3.6" fill="#000"/>
<circle cx="264.2" cy="687" r="3.6" fill="#000"/>
<circle cx="268" cy="687" r="3.6" fill="#000"/>
<circle cx="273" cy="687" r="3.6" fill="#000"/>
<circle cx="277.2" cy="687" r="3.6" fill="#000"/>
<circle cx="282.3" cy="687" r="3.6" fill="#000"/>
<circle cx="287.4" cy="687" r="3.6" fill="#000"/>
<circle cx="270.2" cy="684.4" r="3.6" fill="#000"/>
<text x="452" y="533.7" font-size="13.8" text-anchor="middle" fill="#111" stroke="#111" stroke-width="0.15">CD56</text>
<text x="401.1" y="691" font-size="8.8" text-anchor="end" fill="#222" stroke="#222" stroke-width="0.15">0</text>
<text x="401.1" y="656.45" font-size="8.8" text-anchor="end" fill="#222" stroke="#222" stroke-width="0.15">20</text>
<text x="401.1" y="621.9" font-size="8.8" text-anchor="end" fill="#222" stroke="#222" stroke-width="0.15">40</text>
<text x="401.1" y="587.35" font-size="8.8" text-anchor="end" fill="#222" stroke="#222" stroke-width="0.15">60</text>
<text x="401.1" y="552.8" font-size="8.8" text-anchor="end" fill="#222" stroke="#222" stroke-width="0.15">80</text>
<path d="M402.1 687.8H406.3M402.1 653.25H406.3M402.1 618.7H406.3M402.1 584.15H406.3M402.1 549.6H406.3M406.3 549V687.8M405.5 687.8H499.2" stroke="#0a0a0a" stroke-width="1.6" fill="none"/>
<text x="0" y="0" font-size="11.3" text-anchor="middle" fill="#111" stroke="#111" stroke-width="0.15" transform="translate(383.7 618.7) rotate(-90)">% CD56 exosomes</text>
<circle cx="430.5" cy="686.9" r="3.6" fill="#000"/>
<circle cx="434.9" cy="686.9" r="3.6" fill="#000"/>
<circle cx="439.3" cy="686.9" r="3.6" fill="#000"/>
<circle cx="443.7" cy="686.9" r="3.6" fill="#000"/>
<circle cx="448.1" cy="686.9" r="3.6" fill="#000"/>
<circle cx="452.5" cy="686.9" r="3.6" fill="#000"/>
<circle cx="456.9" cy="686.9" r="3.6" fill="#000"/>
<circle cx="461.3" cy="686.9" r="3.6" fill="#000"/>
<circle cx="465.7" cy="686.9" r="3.6" fill="#000"/>
<circle cx="470.1" cy="686.9" r="3.6" fill="#000"/>
<circle cx="474.5" cy="686.9" r="3.6" fill="#000"/>
<circle cx="457.3" cy="680.6" r="3.6" fill="#000"/>
</svg>
</body></html>
